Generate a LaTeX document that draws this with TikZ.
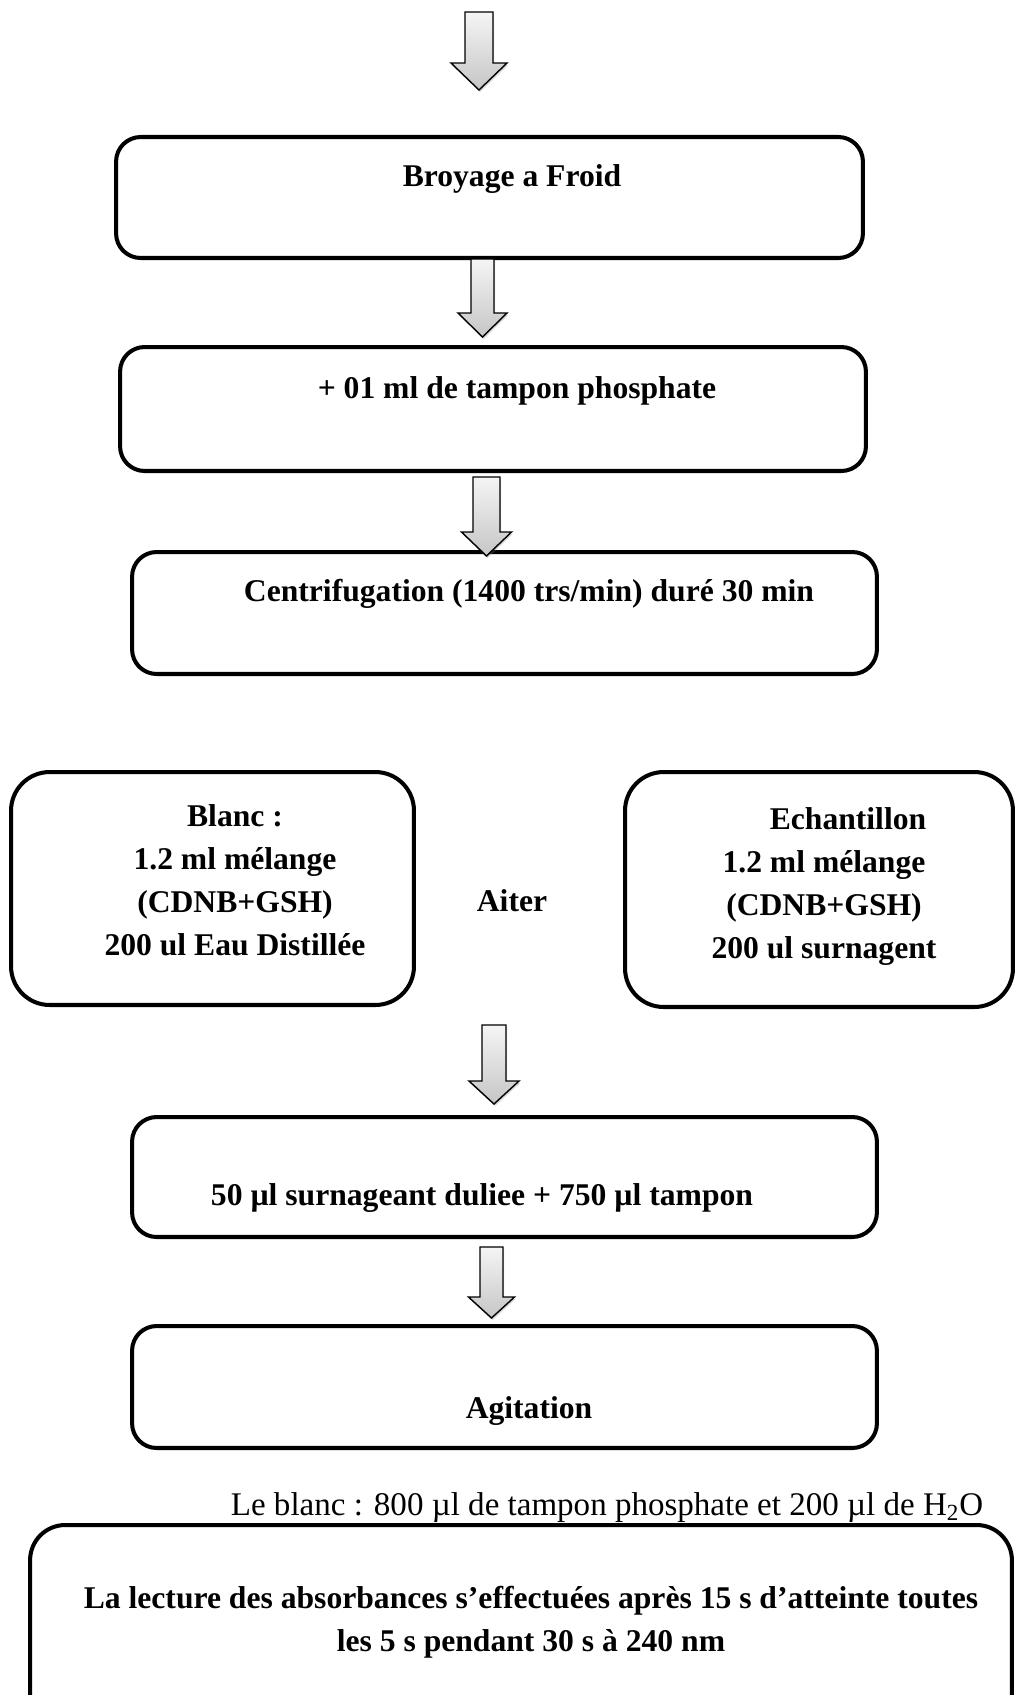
\documentclass[tikz,border=0pt]{standalone}
\usepackage{fontspec}
\setmainfont{Liberation Serif}
\usepackage{tikz}
\usetikzlibrary{shadows}

\tikzset{
    boite/.style={draw, line width=2.3pt, rounded corners=14pt, minimum width=14.9cm, minimum height=2.44cm, inner sep=0pt},
    texte/.style={font=\fontsize{18}{24.5}\selectfont\bfseries, align=center, inner sep=0pt},
    fleche/.style={draw=black, line width=0.8pt, top color=gray!8, bottom color=gray!45, drop shadow={shadow xshift=0.6pt, shadow yshift=-1.2pt, opacity=0.3}}
}

\begin{document}
\begin{tikzpicture}[x=0.02cm, y=-0.02cm]
        \useasboundingbox (0,0) rectangle (1016,1695);

        % Etape 1
        \node[boite, minimum width=14.94cm, minimum height=2.42cm] (broyage) at (489.5,197.5) {};
        \node[texte] (t-broyage) at (512,179.5) {Broyage a Froid};

        % Etape 2
        \node[boite, minimum width=14.92cm, minimum height=2.48cm] (tampon) at (493,409) {};
        \node[texte] (t-tampon) at (517,390.5) {+ 01 ml de tampon phosphate};

        % Etape 3
        \node[boite] (centri) at (504.5,613) {};
        \node[texte] (t-centri) at (529,593.5) {Centrifugation (1400 trs/min) duré 30 min};

        % Blanc et echantillon
        \node[boite, rounded corners=22pt, minimum width=8.06cm, minimum height=4.66cm] (blanc) at (212.5,888.5) {};
        \node[texte] (t-blanc) at (235,880) {Blanc :\\1.2 ml mélange\\(CDNB+GSH)\\200 ul Eau Distillée};

        \node[boite, rounded corners=22pt, minimum width=7.76cm, minimum height=4.70cm] (echant) at (819,889.5) {};
        \node[texte] (t-echant) at (824,886.5) {\hspace*{0.96cm}Echantillon\\1.2 ml mélange\\(CDNB+GSH)\\200 ul surnagent};

        \node[texte] (aiter) at (512,901) {Aiter};

        % Etape 4
        \node[boite, minimum height=2.40cm] (dilution) at (504.5,1177) {};
        \node[texte] (t-dilution) at (482,1198.5) {50 µl surnageant duliee + 750 µl tampon};

        % Etape 5
        \node[boite] (agitation) at (504.5,1387) {};
        \node[texte] (t-agitation) at (529,1411) {Agitation};

        % Lecture
        \node[font=\fontsize{18.8}{24.5}\selectfont, inner sep=0pt] (leblanc) at (607,1508) {Le blanc : 800 µl de tampon phosphate et 200 µl de H\textsubscript{2}O};

        \node[boite, rounded corners=20pt, minimum width=19.64cm, minimum height=4.10cm] (lecture) at (521,1627.5) {};
        \node[texte] (t-lecture) at (531,1622) {La lecture des absorbances s’effectuées après 15 s d’atteinte toutes\\les 5 s pendant 30 s à 240 nm};

        % Fleches
        \foreach \cx/\sw/\hw/\ya/\yb/\yc in {479/14/28/12/63/90, 482.5/11.5/24.5/259/313/337, 486.5/13.5/25/477/532/556, 494/12/25/1025/1081/1104, 491.5/11.5/23/1247/1297/1318}
            \draw[fleche] (\cx-\sw,\ya) -- (\cx+\sw,\ya) -- (\cx+\sw,\yb) -- (\cx+\hw,\yb) -- (\cx,\yc) -- (\cx-\hw,\yb) -- (\cx-\sw,\yb) -- cycle;
    \end{tikzpicture}
\end{document}
